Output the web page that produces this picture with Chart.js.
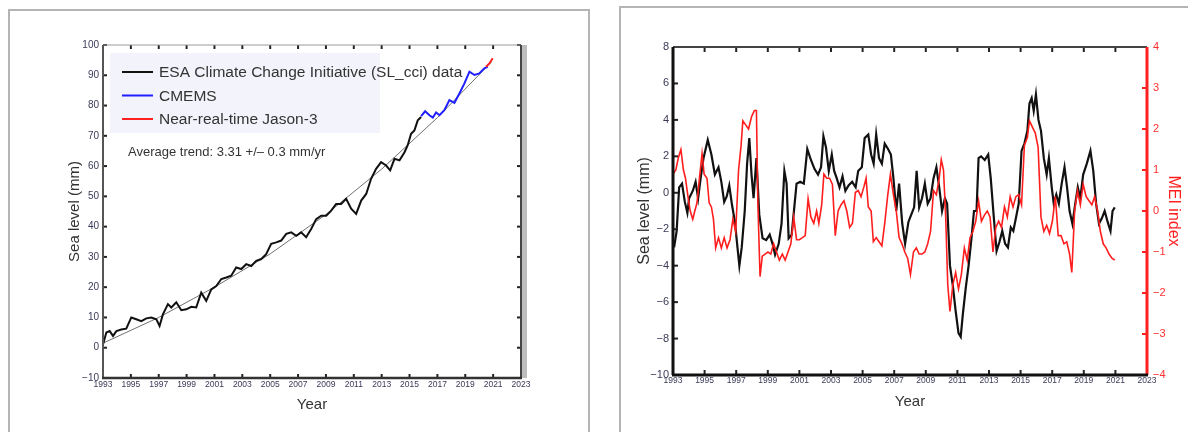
<!DOCTYPE html>
<html>
<head>
<meta charset="utf-8">
<script src="https://cdn.jsdelivr.net/npm/chart.js@4.4.1/dist/chart.umd.min.js"></script>
<style>
  html, body { margin: 0; padding: 0; background: #fff; width: 1188px; height: 432px; overflow: hidden; position: relative; }
  .frame { position: absolute; border: 2px solid #b4b4b4; box-sizing: border-box; }
  canvas { position: absolute; top: 0; }
</style>
</head>
<body>
<div class="frame" style="left:8px;top:9px;width:582px;height:500px"></div>
<div class="frame" style="left:619px;top:6px;width:600px;height:500px"></div>
<canvas id="seaLevel" width="600" height="432" style="left:0"></canvas>
<canvas id="enso" width="588" height="432" style="left:600px"></canvas>
<script>
// ---- left panel: global mean sea level (mm) ----
const esaYears = [1993.00, 1993.24, 1993.48, 1993.72, 1993.96, 1994.31, 1994.67, 1995.03, 1995.39, 1995.75,
  1996.11, 1996.47, 1996.83, 1997.06, 1997.30, 1997.66, 1997.90, 1998.26, 1998.62, 1998.98,
  1999.34, 1999.69, 2000.05, 2000.41, 2000.77, 2001.13, 2001.49, 2001.85, 2002.20, 2002.56,
  2002.92, 2003.28, 2003.64, 2004.00, 2004.36, 2004.71, 2005.07, 2005.43, 2005.79, 2006.15,
  2006.51, 2006.87, 2007.22, 2007.58, 2007.94, 2008.30, 2008.66, 2009.02, 2009.38, 2009.73,
  2010.09, 2010.45, 2010.81, 2011.17, 2011.53, 2011.89, 2012.24, 2012.60, 2012.96, 2013.32,
  2013.61, 2013.92, 2014.28, 2014.64, 2014.87, 2015.11, 2015.35, 2015.59, 2015.83];
const esaValues = [1.1, 5.0, 5.5, 3.9, 5.5, 6.0, 6.3, 10.0, 9.4, 8.8,
  9.7, 10.0, 9.4, 7.2, 11.0, 14.4, 13.3, 15.0, 12.4, 12.7,
  13.5, 13.3, 18.2, 15.5, 19.3, 20.4, 22.7, 23.2, 23.8, 26.5,
  26.0, 27.6, 27.0, 28.7, 29.3, 30.9, 34.3, 34.8, 35.4, 37.6,
  38.1, 37.0, 38.1, 36.5, 39.2, 42.5, 43.6, 43.6, 45.3, 47.5,
  47.5, 49.2, 45.9, 44.2, 48.6, 50.8, 55.8, 59.1, 61.3, 60.2,
  58.6, 62.4, 61.9, 64.6, 66.9, 70.7, 71.8, 75.1, 76.2];
const cmemsYears = [2015.83, 2016.12, 2016.43, 2016.67, 2016.91, 2017.15, 2017.50, 2017.86,
  2018.22, 2018.58, 2018.94, 2019.30, 2019.66, 2020.01, 2020.37, 2020.61];
const cmemsValues = [76.5, 78.1, 76.8, 76.0, 77.7, 76.8, 78.5, 81.8, 80.9, 84.0, 87.3, 91.2, 90.1, 90.6, 92.3, 92.8];
const jasonYears = [2020.49, 2020.73, 2020.97];
const jasonValues = [92.8, 93.9, 95.6];
const trendYears = [1993, 1997, 2001, 2005, 2009, 2013, 2017, 2020.9];
const trendValues = [1.5, 10, 20, 31, 44, 59, 76, 94.5];
const trendNote = "Average trend: 3.31 +/\u2013 0.3 mm/yr";

// ---- right panel: detrended sea level vs MEI ----
const mslYears = [1993.07, 1993.23, 1993.39, 1993.57, 1993.75, 1993.91, 1994.02, 1994.25, 1994.43, 1994.59,
  1994.75, 1994.93, 1995.20, 1995.43, 1995.65, 1995.88, 1996.06, 1996.24, 1996.40, 1996.56,
  1996.74, 1996.92, 1997.08, 1997.20, 1997.35, 1997.54, 1997.69, 1997.83, 1997.97, 1998.10,
  1998.28, 1998.46, 1998.67, 1998.90, 1999.12, 1999.30, 1999.46, 1999.69, 1999.87, 2000.05,
  2000.19, 2000.32, 2000.51, 2000.82, 2001.05, 2001.28, 2001.50, 2001.73, 2001.96, 2002.18,
  2002.37, 2002.52, 2002.68, 2002.86, 2003.05, 2003.20, 2003.36, 2003.54, 2003.73, 2003.91,
  2004.11, 2004.34, 2004.56, 2004.72, 2004.95, 2005.13, 2005.36, 2005.54, 2005.70, 2005.86,
  2006.04, 2006.22, 2006.40, 2006.61, 2006.79, 2006.95, 2007.13, 2007.31, 2007.51, 2007.69,
  2007.90, 2008.08, 2008.26, 2008.42, 2008.58, 2008.76, 2008.94, 2009.12, 2009.30, 2009.49,
  2009.67, 2009.85, 2010.03, 2010.21, 2010.35, 2010.53, 2010.71, 2010.89, 2011.07, 2011.21,
  2011.34, 2011.53, 2011.71, 2011.89, 2012.05, 2012.21, 2012.34, 2012.50, 2012.73, 2012.95,
  2013.11, 2013.29, 2013.48, 2013.66, 2013.84, 2014.02, 2014.20, 2014.38, 2014.54, 2014.70,
  2014.88, 2015.06, 2015.24, 2015.43, 2015.56, 2015.70, 2015.83, 2015.97, 2016.13, 2016.29,
  2016.47, 2016.65, 2016.79, 2016.97, 2017.10, 2017.26, 2017.42, 2017.60, 2017.78, 2017.94,
  2018.10, 2018.28, 2018.46, 2018.62, 2018.78, 2018.96, 2019.19, 2019.42, 2019.60, 2019.78,
  2019.96, 2020.14, 2020.32, 2020.51, 2020.69, 2020.82, 2020.96];
const mslValues = [-3.0, -2.1, 0.3, 0.5, -0.5, -1.1, -0.3, 0.1, 0.6, -0.3,
  0.8, 1.9, 2.9, 2.1, 1.0, 1.4, 0.6, -0.5, -0.2, 0.4,
  -0.7, -1.6, -3.0, -4.0, -3.0, -1.0, 1.6, 3.0, 1.0, -0.3,
  1.9, -1.2, -2.5, -2.6, -2.3, -2.8, -3.4, -2.8, -1.7, 1.2,
  0.5, -2.5, -2.3, 0.5, 0.6, 0.5, 2.4, 1.8, 1.3, 1.0,
  1.4, 3.1, 2.5, 1.2, 2.1, 1.2, 0.8, 0.3, 0.9, 0.1,
  0.4, 0.6, 0.3, 1.2, 1.4, 3.0, 3.2, 2.1, 1.6, 3.2,
  1.9, 1.6, 2.7, 2.4, 2.1, 0.8, -1.0, 0.5, -1.7, -2.8,
  -1.6, -1.2, -0.8, 1.2, -0.8, -0.3, 0.5, -0.6, -0.3, 0.8,
  1.4, 0.3, -1.0, -0.3, -0.6, -4.0, -5.1, -6.5, -7.7, -7.9,
  -6.7, -5.2, -4.0, -2.5, -1.0, -1.0, 1.9, 2.0, 1.8, 2.1,
  0.8, -1.2, -3.2, -2.7, -2.1, -2.8, -3.0, -1.9, -2.1, -1.4,
  -0.6, 2.3, 2.7, 3.4, 4.9, 5.2, 4.5, 5.4, 4.0, 3.4,
  1.9, 1.0, 1.9, 0.3, -0.6, -0.1, -0.6, 0.5, 1.4, 0.3,
  -1.0, -1.7, -0.6, 0.3, -0.3, 1.0, 1.6, 2.3, 1.2, -0.6,
  -1.7, -1.4, -1.0, -1.6, -2.1, -1.0, -0.8];
const meiYears = [1993.00, 1993.18, 1993.34, 1993.50, 1993.66, 1993.79, 1993.93, 1994.09, 1994.25, 1994.38,
  1994.52, 1994.70, 1994.84, 1994.97, 1995.15, 1995.29, 1995.43, 1995.56, 1995.70, 1995.88,
  1996.06, 1996.24, 1996.42, 1996.61, 1996.79, 1996.97, 1997.15, 1997.31, 1997.42, 1997.60,
  1997.78, 1997.97, 1998.15, 1998.28, 1998.37, 1998.51, 1998.65, 1998.83, 1999.01, 1999.19,
  1999.37, 1999.55, 1999.73, 1999.92, 2000.10, 2000.28, 2000.46, 2000.64, 2000.82, 2001.00,
  2001.19, 2001.37, 2001.55, 2001.73, 2001.91, 2002.09, 2002.23, 2002.41, 2002.55, 2002.73,
  2002.91, 2003.09, 2003.27, 2003.45, 2003.63, 2003.82, 2004.00, 2004.18, 2004.36, 2004.54,
  2004.72, 2004.90, 2005.09, 2005.22, 2005.36, 2005.54, 2005.68, 2005.86, 2006.04, 2006.22,
  2006.40, 2006.58, 2006.76, 2006.95, 2007.13, 2007.31, 2007.49, 2007.67, 2007.85, 2008.03,
  2008.22, 2008.40, 2008.58, 2008.76, 2008.94, 2009.12, 2009.30, 2009.49, 2009.67, 2009.85,
  2009.98, 2010.12, 2010.26, 2010.39, 2010.53, 2010.71, 2010.89, 2011.07, 2011.25, 2011.44,
  2011.62, 2011.80, 2011.98, 2012.16, 2012.34, 2012.52, 2012.71, 2012.89, 2013.07, 2013.25,
  2013.43, 2013.61, 2013.79, 2013.98, 2014.16, 2014.34, 2014.52, 2014.70, 2014.88, 2015.06,
  2015.24, 2015.43, 2015.56, 2015.74, 2015.93, 2016.11, 2016.29, 2016.47, 2016.65, 2016.83,
  2017.01, 2017.20, 2017.38, 2017.56, 2017.74, 2017.92, 2018.10, 2018.24, 2018.42, 2018.60,
  2018.78, 2018.96, 2019.15, 2019.33, 2019.51, 2019.69, 2019.87, 2020.05, 2020.23, 2020.41,
  2020.60, 2020.78, 2020.96];
const meiValues = [0.9, 1.0, 1.3, 1.5, 1.0, 0.8, 0.4, 0.0, -0.2, 0.0,
  0.2, 0.9, 1.4, 0.9, 0.8, 0.2, 0.1, -0.2, -0.9, -0.65,
  -0.9, -0.65, -0.9, -0.7, -0.2, -0.5, 1.0, 1.6, 2.2, 2.1,
  2.0, 2.3, 2.45, 2.45, 0.2, -1.6, -1.1, -1.05, -1.0, -1.05,
  -0.8, -1.0, -1.2, -1.05, -1.2, -1.0, -0.8, -0.15, -0.7, -0.7,
  -0.65, -0.6, 0.3, -0.15, -0.3, 0.0, -0.3, 0.15, 0.9, 0.8,
  0.8, 0.65, -0.6, 0.0, 0.15, 0.25, 0.0, -0.4, -0.3, 0.45,
  0.5, 0.35, 0.6, 0.8, 0.1, 0.0, -0.75, -0.65, -0.75, -0.85,
  -0.3, 0.35, 0.9, 0.4, 0.0, -0.65, -0.8, -1.0, -1.15, -1.55,
  -1.0, -0.9, -1.05, -1.05, -1.0, -0.8, -0.5, 0.5, 0.4, 0.8,
  1.25, 1.0, -0.15, -1.8, -2.45, -1.8, -1.5, -1.9, -1.55, -0.9,
  -1.2, -0.65, -0.5, -0.25, 0.25, -0.25, -0.1, 0.0, -0.15, -1.0,
  -0.4, -0.25, -0.4, 0.1, -0.15, 0.35, 0.1, 0.35, 0.4, 0.15,
  1.6, 1.8, 2.2, 2.05, 1.9, 1.55, -0.15, -0.5, -0.35, -0.55,
  -0.25, 0.35, -0.6, -0.6, -0.8, -0.75, -1.05, -1.5, 0.0, 0.5,
  0.15, 0.65, 0.35, 0.25, 0.15, 0.35, 0.0, -0.5, -0.8, -0.9,
  -1.05, -1.15, -1.2];

const FONT = "'Liberation Sans', Arial, sans-serif";
const NARROW = "'Liberation Sans Narrow', 'Arial Narrow', 'Liberation Sans', sans-serif";
Chart.defaults.font.family = FONT;

const toPoints = (xs, ys) => xs.map((x, i) => ({ x: x, y: ys[i] }));
const minusLabel = v => (v < 0 ? "\u2212" + Math.abs(v) : String(v));

// inward tick marks, plot frame and the grey shadow strip
const axesDeco = {
  id: "axesDeco",
  afterDatasetsDraw(chart, args, o) {
    const { ctx, chartArea: a, scales } = chart;
    const seg = (x1, y1, x2, y2) => { ctx.beginPath(); ctx.moveTo(x1, y1); ctx.lineTo(x2, y2); ctx.stroke(); };
    ctx.save();
    if (o.shadow) {
      ctx.fillStyle = o.shadow;
      ctx.fillRect(a.right, a.top, 6, a.bottom - a.top);
    }
    ctx.lineWidth = o.tickWidth;
    ctx.strokeStyle = o.tickColor;
    scales.x.ticks.forEach(t => {
      const px = scales.x.getPixelForValue(t.value);
      seg(px, a.bottom, px, a.bottom - o.tickLen);
      seg(px, a.top, px, a.top + o.tickLen);
    });
    scales.y.ticks.forEach(t => {
      const py = scales.y.getPixelForValue(t.value);
      seg(a.left, py, a.left + o.tickLen, py);
      if (!scales.y1) seg(a.right, py, a.right - o.tickLen, py);
    });
    if (scales.y1) {
      ctx.strokeStyle = o.right[0];
      scales.y1.ticks.forEach(t => {
        const py = scales.y1.getPixelForValue(t.value);
        seg(a.right, py, a.right - o.tickLen, py);
      });
    }
    const edge = (spec, x1, y1, x2, y2) => { ctx.strokeStyle = spec[0]; ctx.lineWidth = spec[1]; seg(x1, y1, x2, y2); };
    edge(o.top, a.left, a.top, a.right, a.top);
    edge(o.right, a.right, a.top, a.right, a.bottom);
    edge(o.left, a.left, a.top, a.left, a.bottom);
    edge(o.bottom, a.left - 1, a.bottom, a.right + 1, a.bottom);
    ctx.restore();
  }
};

// legend box and trend note inside the left plot
const boxLegend = {
  id: "boxLegend",
  afterDatasetsDraw(chart, args, o) {
    if (!o.show) return;
    const { ctx, chartArea: a } = chart;
    ctx.save();
    ctx.fillStyle = o.background;
    ctx.fillRect(a.left + 7, a.top + 8, 270, 80);
    ctx.font = "15.5px " + FONT;
    ctx.textBaseline = "middle";
    chart.data.datasets.filter(d => d.inLegend).forEach((d, i) => {
      const y = a.top + 27 + i * 23.5;
      ctx.strokeStyle = d.borderColor;
      ctx.lineWidth = 2;
      ctx.beginPath(); ctx.moveTo(a.left + 19, y); ctx.lineTo(a.left + 50, y); ctx.stroke();
      ctx.fillStyle = "#333";
      ctx.fillText(d.label, a.left + 56, y + 1);
    });
    ctx.font = "13px " + FONT;
    ctx.fillText(o.note, a.left + 25, a.top + 107);
    ctx.restore();
  }
};

const xAxis = (height, pad) => ({
  type: "linear",
  min: 1993,
  max: 2023,
  afterFit: s => { s.height = height; },
  grid: { display: false, drawTicks: false },
  border: { display: false },
  ticks: {
    stepSize: 2, autoSkip: false, maxRotation: 0, minRotation: 0, padding: pad,
    font: { family: NARROW, size: 8.5 }, color: "#3a3a58",
    callback: v => String(v)
  },
  title: { display: true, text: "Year", font: { size: 15 }, color: "#333", padding: 0 }
});

new Chart(document.getElementById("seaLevel"), {
  type: "line",
  data: {
    datasets: [
      { label: "trend", data: toPoints(trendYears, trendValues), borderColor: "#707070", borderWidth: 1, order: 4 },
      { label: "ESA Climate Change Initiative (SL_cci) data", inLegend: true, data: toPoints(esaYears, esaValues),
        borderColor: "#111", borderWidth: 2, order: 3 },
      { label: "CMEMS", inLegend: true, data: toPoints(cmemsYears, cmemsValues), borderColor: "#1f1fff", borderWidth: 2, order: 2 },
      { label: "Near-real-time Jason-3", inLegend: true, data: toPoints(jasonYears, jasonValues), borderColor: "#ff2020", borderWidth: 2, order: 1 }
    ]
  },
  options: {
    responsive: false,
    animation: false,
    elements: { point: { radius: 0 }, line: { tension: 0 } },
    layout: { padding: { left: 60, top: 45, right: 79, bottom: 18 } },
    plugins: {
      legend: { display: false },
      tooltip: { enabled: false },
      axesDeco: {
        tickLen: 4, tickWidth: 2, tickColor: "#222", shadow: "#bdbdbd",
        top: ["#9a9a9a", 1], right: ["#444", 2], left: ["#555", 2], bottom: ["#333", 2.5]
      },
      boxLegend: { show: true, background: "#f3f3fb", note: trendNote }
    },
    scales: {
      x: xAxis(36, 2),
      y: {
        min: -10, max: 100,
        afterFit: s => { s.width = 43; },
        grid: { display: false, drawTicks: false },
        border: { display: false },
        ticks: { stepSize: 10, padding: 4, font: { size: 10 }, color: "#3a3a58", callback: minusLabel },
        title: { display: true, text: "Sea level (mm)", font: { size: 15 }, color: "#333", padding: { top: 6, bottom: 0 } }
      }
    }
  },
  plugins: [axesDeco, boxLegend]
});

new Chart(document.getElementById("enso"), {
  type: "line",
  data: {
    datasets: [
      { label: "Sea level", data: toPoints(mslYears, mslValues), yAxisID: "y", borderColor: "#111", borderWidth: 2.2, order: 2 },
      { label: "MEI index", data: toPoints(meiYears, meiValues), yAxisID: "y1", borderColor: "#ff1e1e", borderWidth: 1.6, order: 1 }
    ]
  },
  options: {
    responsive: false,
    animation: false,
    elements: { point: { radius: 0 }, line: { tension: 0 } },
    layout: { padding: { left: 29, top: 47, right: 5, bottom: 21 } },
    plugins: {
      legend: { display: false },
      tooltip: { enabled: false },
      axesDeco: {
        tickLen: 5, tickWidth: 2, tickColor: "#222",
        top: ["#444", 2], right: ["#ff2020", 3], left: ["#111", 3], bottom: ["#111", 3]
      },
      boxLegend: { show: false }
    },
    scales: {
      x: xAxis(36, 1),
      y: {
        position: "left",
        min: -10, max: 8,
        afterFit: s => { s.width = 44; },
        grid: { display: false, drawTicks: false },
        border: { display: false },
        ticks: { stepSize: 2, padding: 4, font: { size: 11 }, color: "#3a3a58", callback: minusLabel },
        title: { display: true, text: "Sea level (mm)", font: { size: 16 }, color: "#333", padding: { top: 6, bottom: 0 } }
      },
      y1: {
        position: "right",
        min: -4, max: 4,
        afterFit: s => { s.width = 36; },
        grid: { display: false, drawTicks: false },
        border: { display: false },
        ticks: { stepSize: 1, padding: 6, font: { size: 11 }, color: "#ff3030", callback: minusLabel },
        title: { display: true, text: "MEI index", font: { size: 16 }, color: "#ff2020", padding: { top: 0, bottom: 0 } }
      }
    }
  },
  plugins: [axesDeco, boxLegend]
});
</script>
</body>
</html>
